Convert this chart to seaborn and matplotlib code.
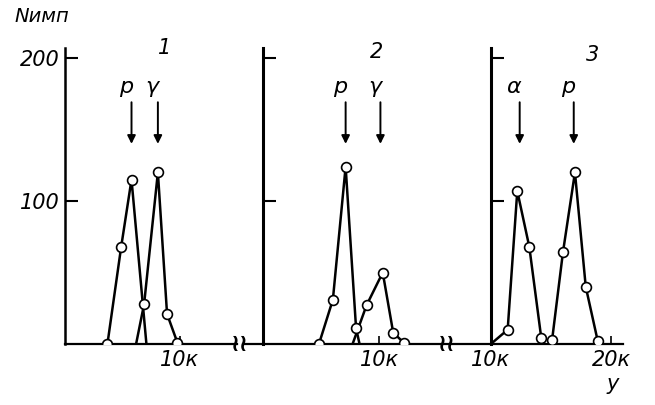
import matplotlib

matplotlib.use("Agg")
import matplotlib.pyplot as plt
import seaborn as sns

# energy y in thousands, counts N
p1_p_x = [3.7, 4.9, 5.8, 7.1]
p1_p_n = [0, 68, 115, 0]
p1_p_mk = [True, True, True, False]
p1_g_x = [6.2, 6.9, 8.1, 8.9, 9.8]
p1_g_n = [0, 28, 120, 21, 1]
p1_g_mk = [False, True, True, True, True]

p2_p_x = [4.8, 6.0, 7.1, 8.0, 8.3]
p2_p_n = [0, 31, 124, 11, 0]
p2_p_mk = [True, True, True, True, False]
p2_g_x = [7.7, 8.9, 10.3, 11.2, 12.1]
p2_g_n = [0, 27, 50, 8, 1]
p2_g_mk = [False, True, True, True, True]

p3_a_x = [10.0, 11.4, 12.2, 13.2, 14.2]
p3_a_n = [0, 10, 107, 68, 4]
p3_a_mk = [False, True, True, True, True]
p3_p_x = [15.1, 16.0, 17.0, 17.9, 18.9]
p3_p_n = [3, 64, 120, 40, 2]
p3_p_mk = [True, True, True, True, True]

panel_names = ["1", "2", "3"]
peak_labels = [[("p", 5.8), ("γ", 8.1)], [("p", 7.1), ("γ", 10.1)], [("α", 12.4), ("p", 16.9)]]
x_ticks = [[10], [10], [10, 20]]
x_ticklabels = [["10к"], ["10к"], ["10к", "20к"]]
y_ticks = [100, 200]

sns.set_style("white")
plt.rcParams["font.family"] = ["Liberation Sans Narrow", "DejaVu Sans"]
plt.rcParams["font.style"] = "italic"
plt.rcParams["text.color"] = "black"
plt.rcParams["xtick.color"] = "black"
plt.rcParams["ytick.color"] = "black"

W, H = 655, 405
fig = plt.figure(figsize=(W / 100, H / 100), dpi=100)
bot, top = 405 - 344, 405 - 48
# (left px, right px, xlim, spine position)
layout = [(65, 237, (0, 15.0), 0), (243, 450, (-1.75, 16.1), 0), (450, 623, (6.6, 21.0), 10)]
curves = [
    [(p1_p_x, p1_p_n, p1_p_mk), (p1_g_x, p1_g_n, p1_g_mk)],
    [(p2_p_x, p2_p_n, p2_p_mk), (p2_g_x, p2_g_n, p2_g_mk)],
    [(p3_a_x, p3_a_n, p3_a_mk), (p3_p_x, p3_p_n, p3_p_mk)],
]
num_pos = [(8.7, 207), (9.8, 204), (18.5, 202)]

for i, (l, r, xl, sp) in enumerate(layout):
    ax = fig.add_axes([l / W, bot / H, (r - l) / W, (top - bot) / H])
    ax.set_facecolor("none")
    for xs, ns, mk in curves[i]:
        sns.lineplot(x=xs, y=ns, sort=False, color="black", lw=1.8, ax=ax, zorder=2)
        sns.scatterplot(x=[a for a, m in zip(xs, mk) if m], y=[b for b, m in zip(ns, mk) if m],
                        s=50, facecolor="white", edgecolor="black", linewidth=1.2, ax=ax, zorder=3)
    ax.set_xlim(*xl)
    ax.set_ylim(0, 207)
    for s in ["top", "right"]:
        ax.spines[s].set_visible(False)
    ax.spines["left"].set_position(("data", sp))
    ax.spines["left"].set_linewidth(2.2 if i else 1.8)
    ax.spines["bottom"].set_linewidth(1.6)
    for s in ax.spines.values():
        s.set_color("black")
    ax.set_yticks(y_ticks)
    ax.set_yticklabels(["100", "200"] if i == 0 else [])
    ax.set_xticks(x_ticks[i])
    ax.set_xticklabels(x_ticklabels[i])
    ax.tick_params(axis="y", left=True, direction="in", length=9, width=1.5, labelsize=15, pad=4)
    ax.tick_params(axis="x", bottom=True, direction="in", length=6, width=1.2, labelsize=15, pad=4)
    ax.set_xlabel("")
    ax.set_ylabel("")
    for lab, xp in peak_labels[i]:
        ax.text(xp - 0.5, 180, lab, fontsize=16, ha="center", va="center")
        ax.annotate("", xy=(xp, 138), xytext=(xp, 171),
                    arrowprops=dict(arrowstyle="-|>", color="black", lw=1.4, mutation_scale=12))
    ax.text(*num_pos[i], panel_names[i], fontsize=15, ha="center", va="center", clip_on=False)

for xb in [240, 447]:
    fig.text(xb / W, 1 - 344 / H, "≀≀", fontsize=17, ha="center", va="center",
             family="DejaVu Sans", style="normal", fontweight="bold")
fig.text(42 / W, 1 - 16 / H, "Nимп", fontsize=14, ha="center", va="center")
fig.text(613 / W, 1 - 384 / H, "y", fontsize=15, ha="center", va="center")

fig.savefig("out.png", dpi=100)
